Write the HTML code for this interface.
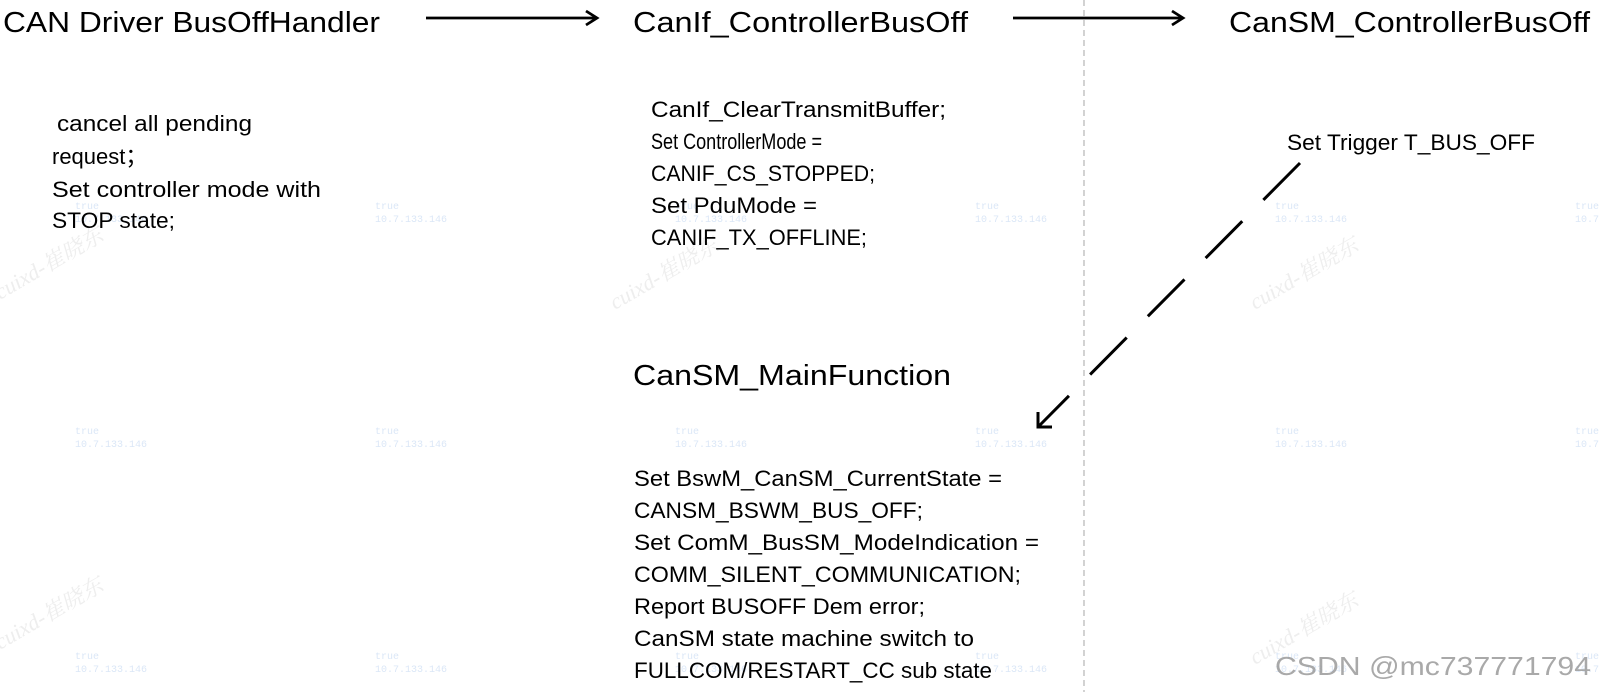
<!DOCTYPE html>
<html><head><meta charset="utf-8"><style>
html,body{margin:0;padding:0;background:#fff;}
svg{display:block;}
.t{font-family:"Liberation Sans",sans-serif;fill:#000;}
.w{font-family:"Liberation Mono",monospace;fill:#dbe7f7;font-size:10px;}
.r{font-family:"Liberation Serif","Noto Serif CJK SC",serif;font-style:italic;fill:#eeeeee;font-size:22px;}
</style></head><body>
<svg width="1599" height="692" viewBox="0 0 1599 692" xmlns="http://www.w3.org/2000/svg">
<g class="r">
<text transform="translate(0,300) rotate(-30)">cuixd-崔晓东</text>
<text transform="translate(615,310) rotate(-30)">cuixd-崔晓东</text>
<text transform="translate(1255,310) rotate(-30)">cuixd-崔晓东</text>
<text transform="translate(0,650) rotate(-30)">cuixd-崔晓东</text>
<text transform="translate(1255,665) rotate(-30)">cuixd-崔晓东</text>
</g>
<g class="w">
<text x="75" y="209">true</text><text x="75" y="222">10.7.133.146</text>
<text x="375" y="209">true</text><text x="375" y="222">10.7.133.146</text>
<text x="675" y="209">true</text><text x="675" y="222">10.7.133.146</text>
<text x="975" y="209">true</text><text x="975" y="222">10.7.133.146</text>
<text x="1275" y="209">true</text><text x="1275" y="222">10.7.133.146</text>
<text x="1575" y="209">true</text><text x="1575" y="222">10.7.</text>
<text x="75" y="434">true</text><text x="75" y="447">10.7.133.146</text>
<text x="375" y="434">true</text><text x="375" y="447">10.7.133.146</text>
<text x="675" y="434">true</text><text x="675" y="447">10.7.133.146</text>
<text x="975" y="434">true</text><text x="975" y="447">10.7.133.146</text>
<text x="1275" y="434">true</text><text x="1275" y="447">10.7.133.146</text>
<text x="1575" y="434">true</text><text x="1575" y="447">10.7.</text>
<text x="75" y="659">true</text><text x="75" y="672">10.7.133.146</text>
<text x="375" y="659">true</text><text x="375" y="672">10.7.133.146</text>
<text x="675" y="659">true</text><text x="675" y="672">10.7.133.146</text>
<text x="975" y="659">true</text><text x="975" y="672">10.7.133.146</text>
<text x="1275" y="659">true</text><text x="1275" y="672">10.7.133.146</text>
<text x="1575" y="659">true</text><text x="1575" y="672">10.7.</text>
</g>
<line x1="1084" y1="0" x2="1084" y2="692" stroke="#bbb" stroke-width="1.3" stroke-dasharray="6,4"/>
<line x1="426" y1="18" x2="596" y2="18" stroke="#000" stroke-width="2.8"/>
<polyline points="586,11 597,18 586,25" fill="none" stroke="#000" stroke-width="2.8"/>
<line x1="1013" y1="18" x2="1182" y2="18" stroke="#000" stroke-width="2.8"/>
<polyline points="1172,11 1183,18 1172,25" fill="none" stroke="#000" stroke-width="2.8"/>
<line x1="1300" y1="163" x2="1039" y2="426" stroke="#000" stroke-width="3" stroke-dasharray="52,30"/>
<polyline points="1038,412 1038,427 1052,427" fill="none" stroke="#000" stroke-width="3"/>
<g class="t" font-size="29">
<text x="3" y="32" textLength="377" lengthAdjust="spacingAndGlyphs">CAN Driver BusOffHandler</text>
<text x="633" y="32" textLength="335" lengthAdjust="spacingAndGlyphs">CanIf_ControllerBusOff</text>
<text x="1229" y="32" textLength="361" lengthAdjust="spacingAndGlyphs">CanSM_ControllerBusOff</text>
<text x="633" y="385" textLength="318" lengthAdjust="spacingAndGlyphs">CanSM_MainFunction</text>
</g>
<g class="t" font-size="22">
<text x="57" y="131" textLength="195" lengthAdjust="spacingAndGlyphs">cancel all pending</text>
<text x="52" y="164">request；</text>
<text x="52" y="197" textLength="269" lengthAdjust="spacingAndGlyphs">Set controller mode with</text>
<text x="52" y="228" textLength="123" lengthAdjust="spacingAndGlyphs">STOP state;</text>

<text x="651" y="117" textLength="295" lengthAdjust="spacingAndGlyphs">CanIf_ClearTransmitBuffer;</text>
<text x="651" y="149" textLength="171" lengthAdjust="spacingAndGlyphs">Set ControllerMode =</text>
<text x="651" y="181" textLength="224" lengthAdjust="spacingAndGlyphs">CANIF_CS_STOPPED;</text>
<text x="651" y="213" textLength="166" lengthAdjust="spacingAndGlyphs">Set PduMode =</text>
<text x="651" y="245" textLength="216" lengthAdjust="spacingAndGlyphs">CANIF_TX_OFFLINE;</text>

<text x="1287" y="150" textLength="248" lengthAdjust="spacingAndGlyphs">Set Trigger T_BUS_OFF</text>

<text x="634" y="486" textLength="368" lengthAdjust="spacingAndGlyphs">Set BswM_CanSM_CurrentState =</text>
<text x="634" y="518" textLength="289" lengthAdjust="spacingAndGlyphs">CANSM_BSWM_BUS_OFF;</text>
<text x="634" y="550" textLength="405" lengthAdjust="spacingAndGlyphs">Set ComM_BusSM_ModeIndication =</text>
<text x="634" y="582" textLength="387" lengthAdjust="spacingAndGlyphs">COMM_SILENT_COMMUNICATION;</text>
<text x="634" y="614" textLength="291" lengthAdjust="spacingAndGlyphs">Report BUSOFF Dem error;</text>
<text x="634" y="646" textLength="340" lengthAdjust="spacingAndGlyphs">CanSM state machine switch to</text>
<text x="634" y="678" textLength="358" lengthAdjust="spacingAndGlyphs">FULLCOM/RESTART_CC sub state</text>
</g>
<text x="1275" y="675" font-family="Liberation Sans,sans-serif" font-size="26" fill="#9a9a9a" fill-opacity="0.85" textLength="316" lengthAdjust="spacingAndGlyphs">CSDN @mc737771794</text>
</svg>
</body></html>
